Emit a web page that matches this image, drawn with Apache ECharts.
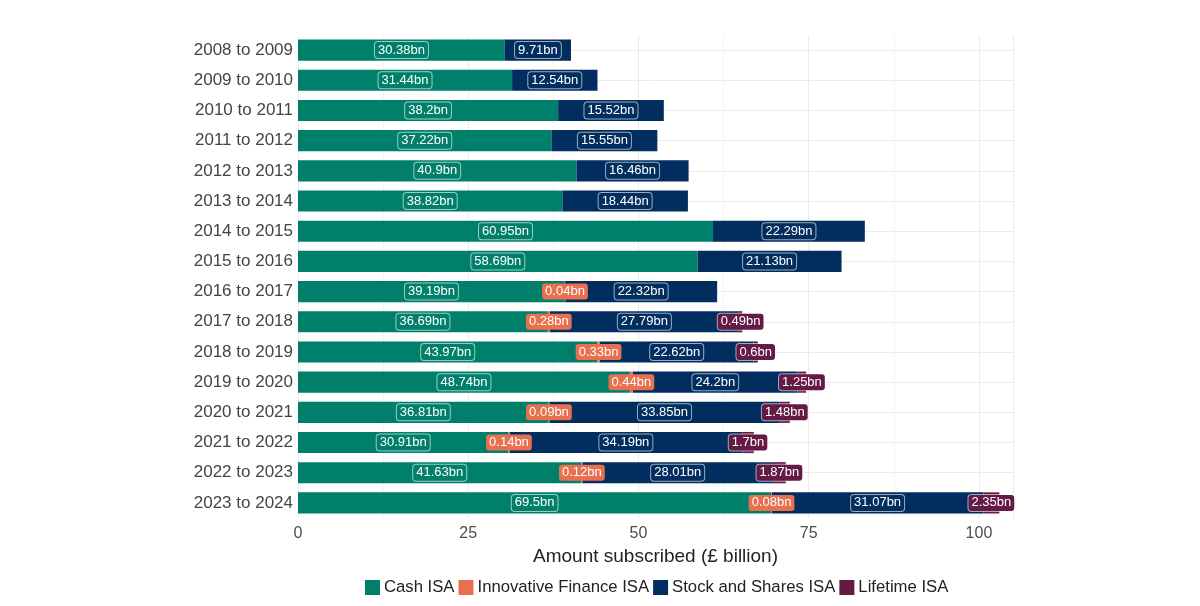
<!DOCTYPE html>
<html><head><meta charset="utf-8">
<script src="https://cdn.jsdelivr.net/npm/echarts@6/dist/echarts.min.js"></script>
<style>html,body{margin:0;padding:0;background:#fff}#c{width:1200px;height:606px}</style>
</head><body><div id="c"></div>
<script>
const categories = ['2008 to 2009','2009 to 2010','2010 to 2011','2011 to 2012','2012 to 2013','2013 to 2014','2014 to 2015','2015 to 2016','2016 to 2017','2017 to 2018','2018 to 2019','2019 to 2020','2020 to 2021','2021 to 2022','2022 to 2023','2023 to 2024'];
const cashISA = [30.38,31.44,38.2,37.22,40.9,38.82,60.95,58.69,39.19,36.69,43.97,48.74,36.81,30.91,41.63,69.5];
const innovativeFinanceISA = [null,null,null,null,null,null,null,null,0.04,0.28,0.33,0.44,0.09,0.14,0.12,0.08];
const stocksSharesISA = [9.71,12.54,15.52,15.55,16.46,18.44,22.29,21.13,22.32,27.79,22.62,24.2,33.85,34.19,28.01,31.07];
const lifetimeISA = [null,null,null,null,null,null,null,null,null,0.49,0.6,1.25,1.48,1.7,1.87,2.35];
const xTicks = [0,25,50,75,100];

const colors = ['#00806A','#E8704F','#012E5F','#641A44'];
const names = ['Cash ISA','Innovative Finance ISA','Stock and Shares ISA','Lifetime ISA'];
const datas = [cashISA, innovativeFinanceISA, stocksSharesISA, lifetimeISA];
const zs = [2,6,3,4];

const chart = echarts.init(document.getElementById('c'));
chart.setOption({
  animation:false,
  textStyle:{fontFamily:'Liberation Sans, Arial, sans-serif'},
  grid:{left:298,right:187,top:35,bottom:88,containLabel:false},
  legend:{bottom:5,left:360,itemWidth:15,itemHeight:15,itemGap:4,icon:'rect',
    textStyle:{fontSize:16.7,color:'#222',padding:[0,0,0,-1]},data:names},
  xAxis:{type:'value',min:0,max:105,interval:25,
    name:'Amount subscribed (£ billion)',nameLocation:'middle',nameGap:20,
    nameTextStyle:{fontSize:19,color:'#222'},
    axisLine:{show:false},axisTick:{show:false},
    axisLabel:{fontSize:16,color:'#4d4d4d',margin:8,showMaxLabel:false,
      formatter:v=>xTicks.includes(v)?String(v):''},
    splitLine:{show:true,lineStyle:{color:'#ebebeb',width:1}},
    minorTick:{show:false,splitNumber:2},
    minorSplitLine:{show:true,lineStyle:{color:'#f3f3f3',width:1}}},
  yAxis:[{type:'category',data:categories,inverse:true,
    axisLine:{show:false},axisTick:{show:false},
    axisLabel:{fontSize:17,color:'#444',margin:5},
    splitLine:{show:false}},
   {type:'value',min:0,max:32,interval:2,inverse:true,show:true,position:'right',
    axisLine:{show:false},axisTick:{show:false},axisLabel:{show:false},
    splitLine:{show:false},minorTick:{show:false,splitNumber:2},
    minorSplitLine:{show:true,lineStyle:{color:'#ebebeb',width:1}}}],
  series: names.map((n,i)=>({
    name:n,type:'bar',stack:'total',barWidth:'70%',yAxisIndex:0,
    itemStyle:{color:colors[i]},
    data:datas[i],
    z:zs[i],
    label:{show:true,position:'inside',formatter:p=>p.value==null?'':p.value+'bn',
      color:'#fff',fontSize:13,backgroundColor:colors[i],
      borderColor:'rgba(255,255,255,0.6)',borderWidth:i===1?0:1,borderRadius:3,
      padding:[2,3,1,3]},
    labelLayout:{hideOverlap:false}
  }))
});
</script></body></html>
